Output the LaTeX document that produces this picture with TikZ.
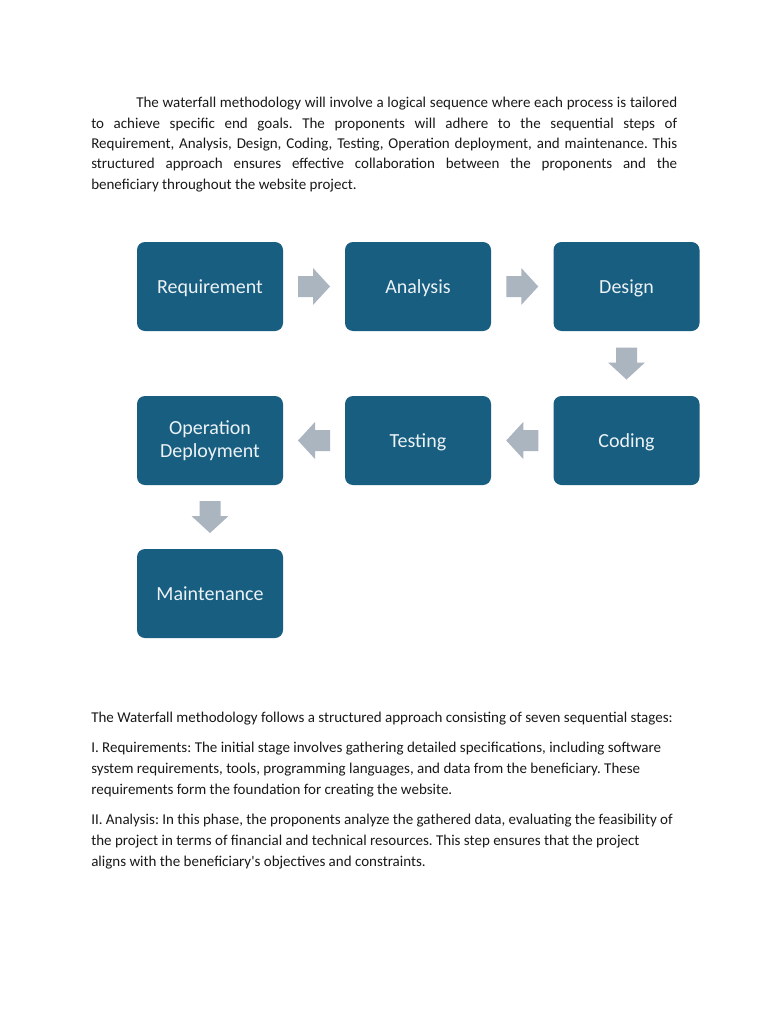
\documentclass[tikz,border=0pt]{standalone}
\usepackage{fontspec}
\setmainfont{Carlito}[Ligatures=TeXOff]
\usetikzlibrary{calc}
\definecolor{boxblue}{RGB}{23,94,128}
\definecolor{arrowgray}{RGB}{171,181,192}
\definecolor{boxtext}{RGB}{236,242,246}
\definecolor{bodytext}{RGB}{25,25,25}
\tikzset{
  stagebox/.style={rectangle, rounded corners=6pt, fill=boxblue, text=boxtext,
    minimum width=109.5pt, minimum height=66.75pt, inner sep=2pt, align=center,
    font=\fontsize{15}{17.5}\selectfont},
  oneline/.style={text height=9.75pt, text depth=0pt},
  bodyline/.style={anchor=base west, inner sep=0pt, text=bodytext,
    font=\fontsize{11.25}{13.5}\selectfont},
  barrow/.pic={\fill[arrowgray] (-16,-10.5) -- (-1,-10.5) -- (-1,-18.5) -- (16,0)
    -- (-1,18.5) -- (-1,10.5) -- (-16,10.5) -- cycle;}
}
\begin{document}
\frenchspacing
\begin{tikzpicture}[x=0.75pt,y=-0.75pt]
\useasboundingbox[fill=white] (0,0) rectangle (768,1024);

% top paragraph
\node[bodyline] (t1) at (136,108) {\makebox[405.75pt][s]{The waterfall methodology will involve a logical sequence where each process is tailored}};
\node[bodyline] (t2) at (91,128.3) {\makebox[439.5pt][s]{to achieve specific end goals. The proponents will adhere to the sequential steps of}};
\node[bodyline] (t3) at (91,148.6) {\makebox[439.5pt][s]{Requirement, Analysis, Design, Coding, Testing, Operation deployment, and maintenance. This}};
\node[bodyline] (t4) at (91,168.9) {\makebox[439.5pt][s]{structured approach ensures effective collaboration between the proponents and the}};
\node[bodyline] (t5) at (91,189.2) {beneficiary throughout the website project.};

% stages
\node[stagebox, oneline] (req) at (210,286.5) {Requirement};
\node[stagebox, oneline] (ana) at (418,286.5) {Analysis};
\node[stagebox, oneline] (des) at (626.5,286.5) {Design};
\node[stagebox, oneline] (cod) at (626.5,440.5) {Coding};
\node[stagebox, oneline] (tes) at (418,440.5) {Testing};
\node[stagebox] (ope) at (210,440.5) {Operation\\Deployment};
\node[stagebox, oneline] (mai) at (210,593.5) {Maintenance};

% block arrows
\pic at ($(req.east)!0.5!(ana.west)$) {barrow};
\pic at ($(ana.east)!0.5!(des.west)$) {barrow};
\pic[rotate=-90] at ($(des.south)!0.5!(cod.north)$) {barrow};
\pic[rotate=180] at ($(cod.west)!0.5!(tes.east)$) {barrow};
\pic[rotate=180] at ($(tes.west)!0.5!(ope.east)$) {barrow};
\pic[rotate=-90] at ($(ope.south)!0.5!(mai.north)$) {barrow};

% lower text
\node[bodyline] (b1) at (91,722) {The Waterfall methodology follows a structured approach consisting of seven sequential stages:};
\node[bodyline] (b2) at (91,752) {I. Requirements: The initial stage involves gathering detailed specifications, including software};
\node[bodyline] (b3) at (91,773) {system requirements, tools, programming languages, and data from the beneficiary. These};
\node[bodyline] (b4) at (91,794) {requirements form the foundation for creating the website.};
\node[bodyline] (b5) at (91,824) {II. Analysis: In this phase, the proponents analyze the gathered data, evaluating the feasibility of};
\node[bodyline] (b6) at (91,845) {the project in terms of financial and technical resources. This step ensures that the project};
\node[bodyline] (b7) at (91,866) {aligns with the beneficiary's objectives and constraints.};
\end{tikzpicture}
\end{document}
